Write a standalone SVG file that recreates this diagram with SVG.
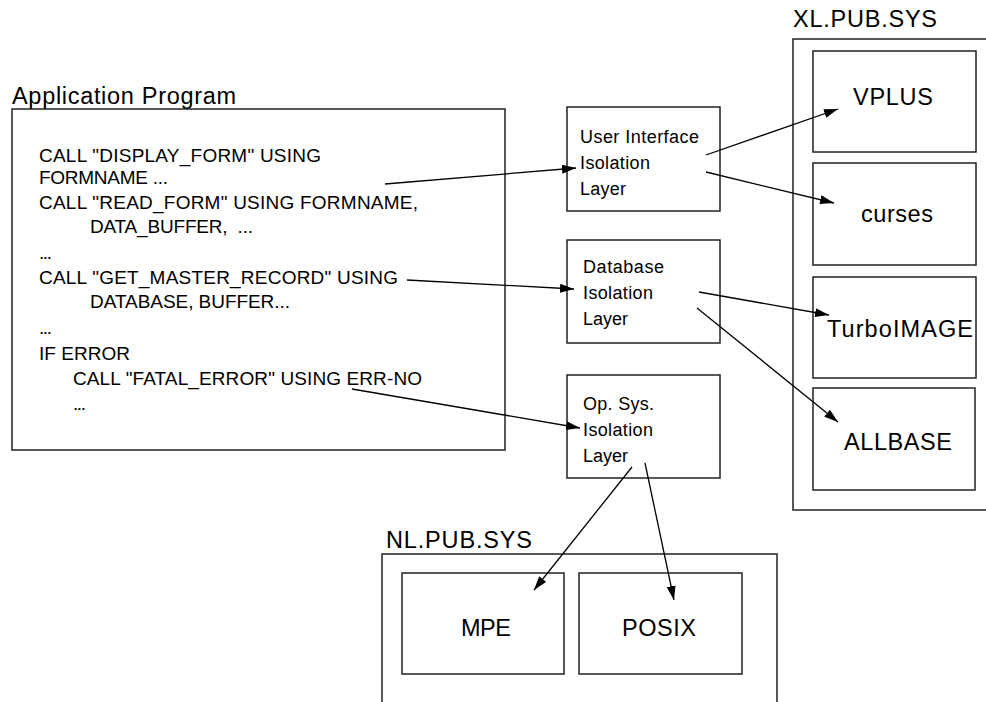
<svg xmlns="http://www.w3.org/2000/svg" width="986" height="702" viewBox="0 0 986 702">
<style>
  .box { fill: #fff; stroke: #222; stroke-width: 1.5; }
  .t { font-family: "Liberation Sans", Arial, sans-serif; fill: #000; white-space: pre; }
  .code { font-size: 19px; }
  .lbl { font-size: 18px; }
  .big { font-size: 23.5px; }
  .conn { stroke: #000; stroke-width: 1.3; fill: none; marker-end: url(#arr); }
</style>
<defs>
  <marker id="arr" markerUnits="userSpaceOnUse" markerWidth="15" markerHeight="10" refX="14" refY="4.5" orient="auto">
    <path d="M0,0 L14,4.5 L0,9 z" fill="#000"/>
  </marker>
</defs>
<rect width="986" height="702" fill="#fff"/>

<g id="app">
  <text class="t big" x="12" y="104" textLength="224" lengthAdjust="spacing">Application Program</text>
  <rect class="box" x="12" y="109" width="493" height="341"/>
  <text class="t code" x="39" y="162" textLength="282" lengthAdjust="spacing">CALL "DISPLAY_FORM" USING</text>
  <text class="t code" x="39" y="184" textLength="129" lengthAdjust="spacing">FORMNAME ...</text>
  <text class="t code" x="39" y="209" textLength="379" lengthAdjust="spacing">CALL "READ_FORM" USING FORMNAME,</text>
  <text class="t code" x="90" y="233" textLength="163" lengthAdjust="spacing" xml:space="preserve">DATA_BUFFER,  ...</text>
  <text class="t code" x="39" y="259" textLength="13" lengthAdjust="spacing">...</text>
  <text class="t code" x="39" y="284" textLength="359" lengthAdjust="spacing">CALL "GET_MASTER_RECORD" USING</text>
  <text class="t code" x="90" y="308" textLength="200" lengthAdjust="spacing">DATABASE, BUFFER...</text>
  <text class="t code" x="39" y="334" textLength="13" lengthAdjust="spacing">...</text>
  <text class="t code" x="39" y="360" textLength="91" lengthAdjust="spacing">IF ERROR</text>
  <text class="t code" x="73" y="385" textLength="349" lengthAdjust="spacing">CALL "FATAL_ERROR" USING ERR-NO</text>
  <text class="t code" x="73" y="410" textLength="13" lengthAdjust="spacing">...</text>
</g>

<g id="ui-layer">
  <rect class="box" x="567" y="107" width="153" height="104"/>
  <text class="t lbl" x="580" y="143" textLength="119" lengthAdjust="spacing">User Interface</text>
  <text class="t lbl" x="580" y="169" textLength="70" lengthAdjust="spacing">Isolation</text>
  <text class="t lbl" x="580" y="195" textLength="46" lengthAdjust="spacing">Layer</text>
</g>

<g id="db-layer">
  <rect class="box" x="567" y="240" width="153" height="103"/>
  <text class="t lbl" x="583" y="273" textLength="81" lengthAdjust="spacing">Database</text>
  <text class="t lbl" x="583" y="299" textLength="70" lengthAdjust="spacing">Isolation</text>
  <text class="t lbl" x="583" y="325" textLength="45" lengthAdjust="spacing">Layer</text>
</g>

<g id="os-layer">
  <rect class="box" x="567" y="375" width="153" height="103"/>
  <text class="t lbl" x="583" y="410" textLength="71" lengthAdjust="spacing">Op. Sys.</text>
  <text class="t lbl" x="583" y="436" textLength="70" lengthAdjust="spacing">Isolation</text>
  <text class="t lbl" x="583" y="462" textLength="45" lengthAdjust="spacing">Layer</text>
</g>

<g id="xl">
  <text class="t big" x="793" y="27" textLength="144" lengthAdjust="spacing">XL.PUB.SYS</text>
  <rect class="box" x="793" y="39" width="200" height="471"/>
</g>
<g id="vplus">
  <rect class="box" x="813" y="51" width="163" height="101"/>
  <text class="t big" x="853" y="105" textLength="80" lengthAdjust="spacing">VPLUS</text>
</g>
<g id="curses">
  <rect class="box" x="813" y="163" width="163" height="102"/>
  <text class="t big" x="861" y="222" textLength="72" lengthAdjust="spacing">curses</text>
</g>
<g id="turboimage">
  <rect class="box" x="813" y="277" width="163" height="101"/>
  <text class="t big" x="827" y="337" textLength="146" lengthAdjust="spacing">TurboIMAGE</text>
</g>
<g id="allbase">
  <rect class="box" x="813" y="388" width="162" height="102"/>
  <text class="t big" x="844" y="450" textLength="108" lengthAdjust="spacing">ALLBASE</text>
</g>

<g id="nl">
  <text class="t big" x="386" y="548" textLength="146" lengthAdjust="spacing">NL.PUB.SYS</text>
  <rect class="box" x="382" y="554" width="395" height="160"/>
</g>
<g id="mpe">
  <rect class="box" x="402" y="573" width="162" height="101"/>
  <text class="t big" x="461" y="636" textLength="50" lengthAdjust="spacing">MPE</text>
</g>
<g id="posix">
  <rect class="box" x="579" y="573" width="163" height="101"/>
  <text class="t big" x="622" y="636" textLength="74" lengthAdjust="spacing">POSIX</text>
</g>

<g id="connectors">
  <line class="conn" x1="385" y1="184" x2="576" y2="168"/>
  <line class="conn" x1="407" y1="280" x2="574" y2="289"/>
  <line class="conn" x1="352" y1="389" x2="580" y2="428"/>
  <line class="conn" x1="706" y1="155" x2="838" y2="109"/>
  <line class="conn" x1="706" y1="172" x2="834" y2="203"/>
  <line class="conn" x1="699" y1="292" x2="829" y2="315"/>
  <line class="conn" x1="697" y1="308" x2="838" y2="422"/>
  <line class="conn" x1="632" y1="467" x2="534" y2="590"/>
  <line class="conn" x1="645" y1="463" x2="674" y2="600"/>
</g>
</svg>
